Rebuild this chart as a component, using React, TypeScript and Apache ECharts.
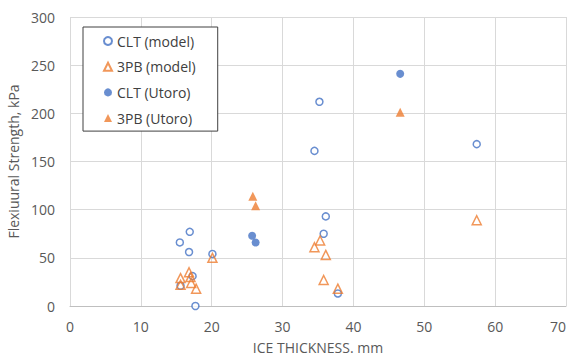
import React, { useEffect, useRef } from "react";
import * as echarts from "echarts";

const seriesNames = ["CLT (model)", "3PB (model)", "CLT (Utoro)", "3PB (Utoro)"];

const cltModel: [number, number][] = [
  [16.9, 77], [15.5, 66], [16.8, 56], [20.1, 54], [17.3, 31], [15.6, 21], [17.7, 0],
  [35.2, 212], [34.5, 161], [36.1, 93], [35.8, 75], [37.8, 13], [57.4, 168],
];
const pbModel: [number, number][] = [
  [20.1, 50], [16.8, 35], [15.6, 29], [17.0, 30], [17.1, 24], [15.6, 22], [17.8, 18],
  [35.3, 68], [34.5, 61], [36.1, 53], [35.8, 27], [37.8, 18], [57.4, 89],
];
const cltUtoro: [number, number][] = [[25.7, 73], [26.2, 66], [46.6, 241]];
const pbUtoro: [number, number][] = [[25.8, 114], [26.2, 104], [46.6, 201]];

const xTicks = [0, 10, 20, 30, 40, 50, 60, 70];
const yTicks = [0, 50, 100, 150, 200, 250, 300];

const BLUE = "#4472C4";
const ORANGE = "#ED7D31";
const FONT = "Open Sans";

export default function App() {
  const ref = useRef<HTMLDivElement>(null);
  useEffect(() => {
    if (!ref.current) return;
    const chart = echarts.init(ref.current, null, { renderer: "svg" });
    chart.setOption({
      animation: false,
      backgroundColor: "#fff",
      textStyle: { fontFamily: FONT },
      grid: { left: 70, top: 17, right: 5, bottom: 49, containLabel: false, outerBoundsMode: "none" },
      legend: {
        orient: "vertical",
        left: 83,
        top: 27,
        padding: [6, 22, 5, 20],
        itemGap: 9.7,
        itemWidth: 8,
        itemHeight: 8,
        borderColor: "#404040",
        borderWidth: 1,
        backgroundColor: "#fff",
        textStyle: { color: "#404040", fontSize: 14, fontFamily: FONT, lineHeight: 16 },
        data: seriesNames,
      },
      xAxis: {
        type: "value",
        min: xTicks[0],
        max: xTicks[xTicks.length - 1],
        interval: 10,
        name: "ICE THICKNESS. mm",
        nameLocation: "middle",
        nameGap: 34,
        nameTextStyle: { color: "#595959", fontSize: 14, fontFamily: FONT },
        axisLine: { show: true, lineStyle: { color: "#bfbfbf", width: 1 } },
        axisTick: { show: false },
        axisLabel: {
          color: "#595959",
          fontSize: 14,
          fontFamily: FONT,
          margin: 13,
          alignMaxLabel: "right",
        },
        splitLine: { show: true, lineStyle: { color: "#d9d9d9", width: 1 } },
      },
      yAxis: {
        type: "value",
        min: yTicks[0],
        max: yTicks[yTicks.length - 1],
        interval: 50,
        name: "Flexiuural Strength, kPa",
        nameLocation: "middle",
        nameRotate: 90,
        nameGap: 42,
        nameTextStyle: { color: "#595959", fontSize: 14, fontFamily: FONT },
        axisLine: { show: false },
        axisTick: { show: false },
        axisLabel: { color: "#595959", fontSize: 14, fontFamily: FONT, margin: 15 },
        splitLine: { show: true, lineStyle: { color: "#d9d9d9", width: 1 } },
      },
      series: [
        {
          name: seriesNames[0],
          type: "scatter",
          data: cltModel,
          symbol: "circle",
          symbolSize: 7,
          itemStyle: { color: "#fff", borderColor: BLUE, borderWidth: 1.5 },
          z: 3,
        },
        {
          name: seriesNames[1],
          type: "scatter",
          data: pbModel,
          symbol: "triangle",
          symbolSize: 9,
          itemStyle: { color: "rgba(255,255,255,0)", borderColor: ORANGE, borderWidth: 1.5 },
          z: 4,
        },
        {
          name: seriesNames[2],
          type: "scatter",
          data: cltUtoro,
          symbol: "circle",
          symbolSize: 8,
          itemStyle: { color: BLUE },
          z: 5,
        },
        {
          name: seriesNames[3],
          type: "scatter",
          data: pbUtoro,
          symbol: "triangle",
          symbolSize: 9,
          itemStyle: { color: ORANGE },
          z: 5,
        },
      ],
    });
    return () => chart.dispose();
  }, []);
  return (
    <div
      ref={ref}
      style={{ position: "absolute", left: 0, top: 0, width: 571, height: 355 }}
    />
  );
}
